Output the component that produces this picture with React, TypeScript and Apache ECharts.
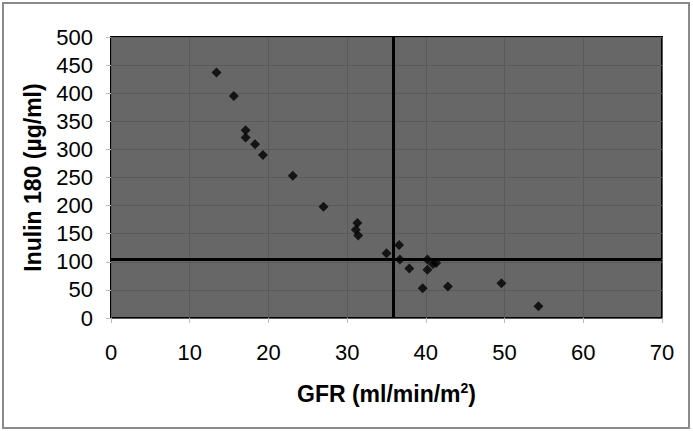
import React, { useEffect, useRef } from "react";
import * as echarts from "echarts";

const gfr = [13.4, 15.6, 17.1, 17.1, 18.3, 19.3, 23.1, 27.0, 31.3, 31.1, 31.4, 35.0, 36.6, 36.7, 37.9, 40.2, 40.2, 39.6, 40.9, 41.3, 42.8, 49.6, 54.3];
const inulin = [437, 395, 334, 321, 309, 290, 253, 198, 169, 157, 147, 115, 130, 104, 88, 104, 86, 53, 96, 98, 56, 62, 21];
const cutoffGfr = 35.8;
const cutoffInulin = 104;

export default function App() {
  const ref = useRef<HTMLDivElement>(null);
  useEffect(() => {
    document.body.style.margin = "0";
    const chart = echarts.init(ref.current!, null, { renderer: "svg" });
    const data = gfr.map((x, i) => [x, inulin[i]]);
    chart.setOption({
      animation: false,
      backgroundColor: "#ffffff",
      graphic: [
        {
          type: "rect",
          shape: { x: 3, y: 3, width: 686, height: 425 },
          style: { fill: "none", stroke: "#8a8a8a", lineWidth: 2 },
          z: 0,
        },
      ],
      grid: {
        left: 111,
        right: 31,
        top: 37,
        bottom: 113,
        show: true,
        backgroundColor: "#676767",
        borderColor: "#000",
        borderWidth: 2,
      },
      xAxis: {
        type: "value",
        min: 0,
        max: 70,
        interval: 10,
        name: "GFR (ml/min/m{sup|2})",
        nameLocation: "middle",
        nameGap: 63,
        nameTextStyle: {
          fontFamily: "Liberation Sans",
          fontWeight: "bold",
          fontSize: 23,
          color: "#000",
          rich: {
            sup: { fontSize: 14, fontWeight: "bold", verticalAlign: "top", padding: [0, 0, 12, 0], fontFamily: "Liberation Sans" },
          },
        },
        axisLine: { show: false },
        axisTick: { show: true, length: 5, lineStyle: { color: "#bbb" } },
        axisLabel: { fontFamily: "Liberation Sans", fontSize: 22, color: "#000", margin: 23 },
        splitLine: { show: true, lineStyle: { color: "#5a5a5a", width: 1 } },
      },
      yAxis: {
        type: "value",
        min: 0,
        max: 500,
        interval: 50,
        name: "Inulin 180 (\u00b5g/ml)",
        nameLocation: "middle",
        nameRotate: 90,
        nameGap: 67,
        nameTextStyle: { fontFamily: "Liberation Sans", fontWeight: "bold", fontSize: 23, color: "#000" },
        axisLine: { show: false },
        axisTick: { show: true, length: 5, lineStyle: { color: "#bbb" } },
        axisLabel: { fontFamily: "Liberation Sans", fontSize: 22, color: "#000", margin: 18 },
        splitLine: { show: true, lineStyle: { color: "#5a5a5a", width: 1 } },
      },
      series: [
        {
          type: "scatter",
          data,
          symbol: "diamond",
          symbolSize: 10,
          itemStyle: { color: "#000" },
          markLine: {
            silent: true,
            symbol: "none",
            label: { show: false },
            lineStyle: { color: "#000", width: 3, type: "solid" },
            data: [{ xAxis: cutoffGfr }, { yAxis: cutoffInulin }],
          },
        },
      ],
    });
    return () => chart.dispose();
  }, []);
  return <div ref={ref} style={{ width: 693, height: 431 }} />;
}
